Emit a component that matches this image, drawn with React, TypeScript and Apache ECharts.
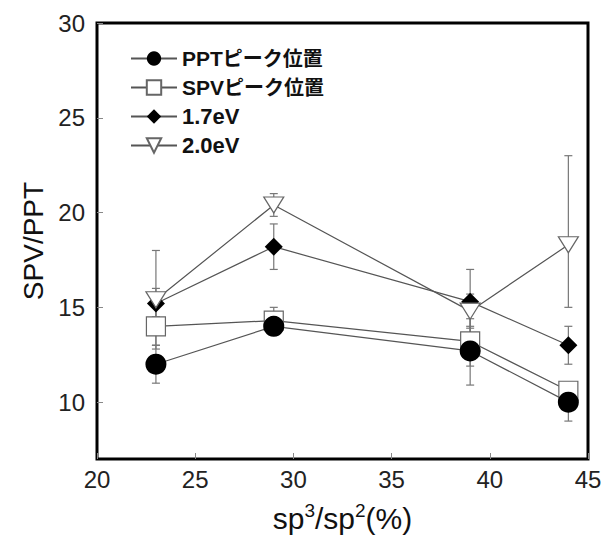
import React, { useEffect, useRef } from "react";
import * as echarts from "echarts";

const xValues = [23, 29, 39, 44];
const pptValues = [12.0, 14.0, 12.7, 10.0];
const spvValues = [14.0, 14.3, 13.2, 10.6];
const ev17Values = [15.2, 18.2, 15.3, 13.0];
const ev20Values = [15.4, 20.4, 14.8, 18.3];

const pptLow = [11.0, 13.6, 10.9, 9.0];
const pptHigh = [13.0, 14.4, 14.0, 11.0];
const spvLow = [13.0, 13.7, 11.9, 10.3];
const spvHigh = [15.0, 15.0, 14.4, 10.9];
const ev17Low = [14.5, 17.0, 13.6, 12.0];
const ev17High = [16.0, 19.4, 17.0, 14.0];
const ev20Low = [12.8, 19.8, 13.9, 15.0];
const ev20High = [18.0, 21.0, 15.7, 23.0];

const yTicks = [10, 15, 20, 25, 30];
const seriesNames = ["PPTピーク位置", "SPVピーク位置", "1.7eV", "2.0eV"];

const FONT = "'Liberation Sans', Arial, 'Noto Sans CJK JP', sans-serif";

function pairs(vals: number[]) {
  return xValues.map((x, i) => [x, vals[i]]);
}
function errData(low: number[], high: number[]) {
  return xValues.map((x, i) => [x, low[i], high[i]]);
}

export default function App() {
  const ref = useRef<HTMLDivElement>(null);
  useEffect(() => {
    if (!ref.current) return;
    const chart = echarts.init(ref.current, undefined, { renderer: "svg" });
    const errSeries = (low: number[], high: number[]) => ({
      type: "custom",
      z: 1,
      silent: true,
      data: errData(low, high),
      encode: { x: 0, y: [1, 2] },
      renderItem: (params: any, api: any) => {
        const x = api.value(0);
        const lo = api.coord([x, api.value(1)]);
        const hi = api.coord([x, api.value(2)]);
        const cw = 4;
        const style = { stroke: "#777", lineWidth: 1.2 };
        return {
          type: "group",
          children: [
            { type: "line", shape: { x1: lo[0], y1: lo[1], x2: hi[0], y2: hi[1] }, style },
            { type: "line", shape: { x1: lo[0] - cw, y1: lo[1], x2: lo[0] + cw, y2: lo[1] }, style },
            { type: "line", shape: { x1: hi[0] - cw, y1: hi[1], x2: hi[0] + cw, y2: hi[1] }, style },
          ],
        };
      },
    });
    const lineStyle = { color: "#555", width: 1.2 };
    const txt = { fontWeight: "bold", color: "#111", fontFamily: FONT, lineHeight: 23 };
    chart.setOption({
      animation: false,
      backgroundColor: "#fff",
      grid: {
        left: 97,
        top: 23,
        right: 24,
        bottom: 75,
        show: true,
        borderColor: "#000",
        borderWidth: 3,
      },
      legend: {
        data: seriesNames,
        orient: "vertical",
        left: 130,
        top: 47,
        padding: 0,
        itemWidth: 46,
        itemHeight: 18,
        itemGap: 6,
        formatter: (name: string) => {
          const m = name.match(/^([A-Za-z0-9.]+)(.*)$/);
          if (m && m[2]) return `{a|${m[1]}}{b|${m[2]}}`;
          return `{c|${name}}`;
        },
        textStyle: {
          fontSize: 21,
          lineHeight: 23,
          fontWeight: "bold",
          color: "#111",
          fontFamily: FONT,
          rich: {
            a: { ...txt, fontSize: 21 },
            b: { ...txt, fontSize: 20 },
            c: { ...txt, fontSize: 22 },
          },
        },
      },
      xAxis: {
        type: "value",
        min: 20,
        max: 45,
        interval: 5,
        name: "sp{sup|3}/sp{sup|2}(%)",
        nameLocation: "middle",
        nameGap: 42,
        nameTextStyle: {
          fontSize: 30,
          color: "#111",
          fontFamily: FONT,
          rich: {
            sup: { fontSize: 19, verticalAlign: "top", padding: [0, 0, 15, 0], color: "#111", fontFamily: FONT },
          },
        },
        axisLine: { show: false },
        axisTick: { show: true, inside: true, length: 6, lineStyle: { color: "#888" } },
        axisLabel: { fontSize: 24, color: "#222", margin: 8, fontFamily: FONT },
        splitLine: { show: false },
      },
      yAxis: {
        type: "value",
        min: 7,
        max: 30,
        name: "SPV/PPT",
        nameLocation: "middle",
        nameGap: 50,
        nameTextStyle: { fontSize: 28, color: "#111", fontFamily: FONT },
        axisLine: { show: false },
        axisTick: { show: true, inside: true, length: 6, lineStyle: { color: "#888" }, customValues: yTicks },
        axisLabel: { fontSize: 24, color: "#222", margin: 12, fontFamily: FONT, customValues: yTicks },
        splitLine: { show: false },
      },
      series: [
        errSeries(pptLow, pptHigh),
        errSeries(spvLow, spvHigh),
        errSeries(ev17Low, ev17High),
        errSeries(ev20Low, ev20High),
        {
          name: seriesNames[3],
          type: "line",
          z: 4,
          data: pairs(ev20Values),
          symbol: "triangle",
          symbolRotate: 180,
          symbolSize: [20, 16],
          lineStyle,
          itemStyle: { color: "#fff", borderColor: "#666", borderWidth: 1.2 },
        },
        {
          name: seriesNames[2],
          type: "line",
          z: 3,
          data: pairs(ev17Values),
          symbol: "diamond",
          symbolSize: 18,
          lineStyle,
          itemStyle: { color: "#000", borderColor: "#000", borderWidth: 0 },
        },
        {
          name: seriesNames[1],
          type: "line",
          z: 4,
          data: pairs(spvValues),
          symbol: "rect",
          symbolSize: 19,
          lineStyle,
          itemStyle: { color: "#fff", borderColor: "#666", borderWidth: 1.2 },
        },
        {
          name: seriesNames[0],
          type: "line",
          z: 5,
          data: pairs(pptValues),
          symbol: "circle",
          symbolSize: 21,
          lineStyle,
          itemStyle: { color: "#000", borderColor: "#000", borderWidth: 0 },
        },
      ],
    });
    return () => chart.dispose();
  }, []);
  return (
    <div
      ref={ref}
      style={{ position: "fixed", left: 0, top: 0, width: 612, height: 538, background: "#fff" }}
    />
  );
}
